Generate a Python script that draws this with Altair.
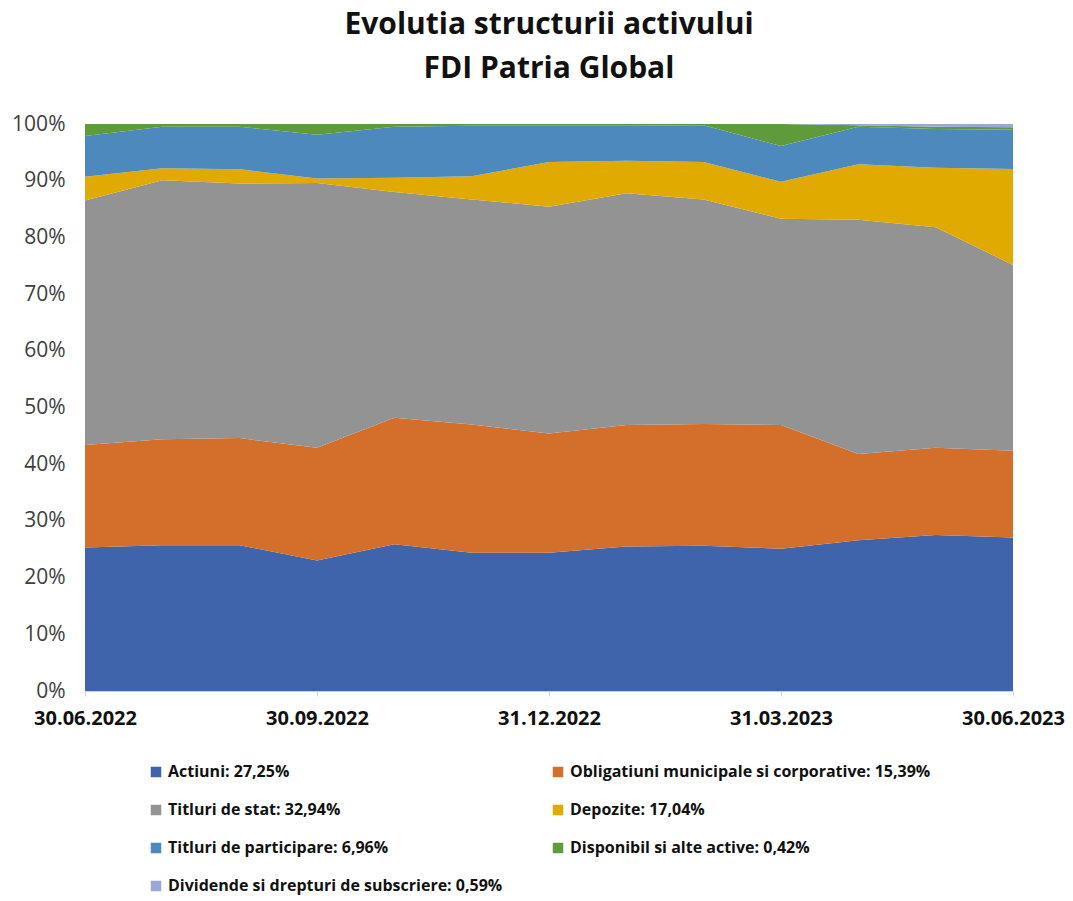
import altair as alt
import pandas as pd

dates = ["30.06.2022", "31.07.2022", "31.08.2022", "30.09.2022", "31.10.2022", "30.11.2022",
         "31.12.2022", "31.01.2023", "28.02.2023", "31.03.2023", "30.04.2023", "31.05.2023", "30.06.2023"]
axis_labels = ["30.06.2022", "30.09.2022", "31.12.2022", "31.03.2023", "30.06.2023"]

series_names = [
    "Actiuni: 27,25%",
    "Obligatiuni municipale si corporative: 15,39%",
    "Titluri de stat: 32,94%",
    "Depozite: 17,04%",
    "Titluri de participare: 6,96%",
    "Disponibil si alte active: 0,42%",
    "Dividende si drepturi de subscriere: 0,59%",
]
colors = ["#3F64AB", "#D36E2B", "#939393", "#E0AA00", "#4E89BD", "#5F9A3B", "#9AA8D8"]

actiuni = [25.3, 25.7, 25.7, 23.0, 25.9, 24.4, 24.4, 25.5, 25.6, 25.1, 26.6, 27.5, 27.25]
obligatiuni = [18.1, 18.7, 18.9, 19.9, 22.3, 22.6, 21.0, 21.4, 21.5, 21.8, 15.2, 15.4, 15.39]
titluri_stat = [43.1, 45.7, 44.9, 46.7, 39.8, 39.7, 40.0, 40.9, 39.6, 36.4, 41.3, 38.9, 32.94]
depozite = [4.2, 2.1, 2.5, 0.8, 2.5, 4.1, 7.9, 5.7, 6.6, 6.5, 9.8, 10.5, 17.04]
participare = [7.2, 7.3, 7.5, 7.7, 9.0, 8.9, 6.4, 6.2, 6.5, 6.3, 6.6, 6.8, 6.96]
disponibil = [2.1, 0.5, 0.5, 1.9, 0.5, 0.3, 0.3, 0.3, 0.2, 3.9, 0.3, 0.4, 0.42]
dividende = [0.0, 0.0, 0.0, 0.0, 0.0, 0.0, 0.0, 0.0, 0.0, 0.0, 0.2, 0.5, 0.59]

all_series = [actiuni, obligatiuni, titluri_stat, depozite, participare, disponibil, dividende]

rows = []
for k, (name, vals) in enumerate(zip(series_names, all_series)):
    for d, v in zip(dates, vals):
        rows.append({"date": d, "series": name, "value": v, "order": k})
df = pd.DataFrame(rows)

FONT = "Open Sans"

chart = alt.Chart(df).mark_area(opacity=1).encode(
    x=alt.X("date:O", sort=dates, title=None,
            scale=alt.Scale(type="point", padding=0),
            axis=alt.Axis(values=axis_labels, labelAngle=0, labelFontSize=20, labelFontWeight="bold",
                          labelColor="#111111", labelPadding=12, tickColor="#D0D0D0", tickSize=5,
                          domainColor="#D0D0D0", labelFont=FONT, labelOverlap=False,
                          labelFlush=False)),
    y=alt.Y("value:Q", stack="normalize", title=None,
            scale=alt.Scale(domain=[0, 1]),
            axis=alt.Axis(format=".0%", values=[i / 10 for i in range(11)], labelFontSize=21,
                          labelColor="#404040", labelFont=FONT, grid=False, domain=False, ticks=False,
                          labelPadding=20, minExtent=77, maxExtent=77)),
    color=alt.Color("series:N", sort=series_names,
                    scale=alt.Scale(domain=series_names, range=colors),
                    legend=alt.Legend(title=None, orient="none", legendX=63, legendY=640, columns=2,
                                      direction="horizontal",
                                      symbolType="square", symbolSize=110, symbolStrokeWidth=0,
                                      labelFontSize=16, labelFontWeight="bold", labelFont=FONT,
                                      labelColor="#111111", rowPadding=22, columnPadding=47,
                                      labelLimit=500, symbolOpacity=1)),
    order=alt.Order("order:Q", sort="ascending"),
).properties(
    width=928,
    height=567,
    padding={"left": 0, "top": 2, "right": 0, "bottom": 8},
    title=alt.TitleParams("Evolutia structurii activului", subtitle="FDI Patria Global",
                          fontSize=30, fontWeight="bold", font=FONT, color="#111111",
                          subtitleFontSize=30, subtitleFontWeight="bold", subtitleFont=FONT,
                          subtitleColor="#111111", subtitlePadding=14,
                          anchor="middle", offset=29),
).configure_view(stroke=None)

chart.save("out.html", embed_options={"renderer": "svg", "actions": False})
